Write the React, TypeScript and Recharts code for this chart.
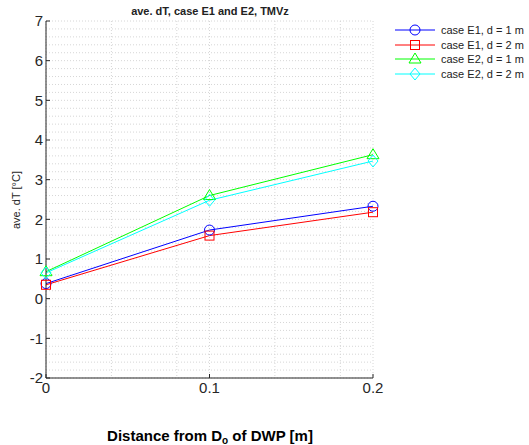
import { LineChart, Line, XAxis, YAxis, CartesianGrid } from 'recharts'

const distances = [0, 0.1, 0.2]
const e1d1 = [0.38, 1.73, 2.33]
const e1d2 = [0.35, 1.59, 2.18]
const e2d1 = [0.68, 2.6, 3.63]
const e2d2 = [0.65, 2.48, 3.47]

const xTicks = [0, 0.1, 0.2]
const yTicks = [-2, -1, 0, 1, 2, 3, 4, 5, 6, 7]

const seriesNames = ['case E1, d = 1 m', 'case E1, d = 2 m', 'case E2, d = 1 m', 'case E2, d = 2 m']
const seriesColors = ['#0000ff', '#ff0000', '#00ff00', '#00ffff']
const seriesShapes = ['circle', 'square', 'triangle', 'diamond']

const data = distances.map((d, i) => ({ x: d, s0: e1d1[i], s1: e1d2[i], s2: e2d1[i], s3: e2d2[i] }))

// grid positions (minor grid every 0.02 in x, 0.2 in y)
const xGrid = Array.from({ length: 11 }, (_, i) => +(i * 0.02).toFixed(2))
const yGrid = Array.from({ length: 46 }, (_, i) => +(-2 + i * 0.2).toFixed(1))

const FONT = '"Liberation Sans", Arial, sans-serif'

function Marker({ shape, cx, cy, color }: { shape: string; cx: number; cy: number; color: string }) {
  const p = { fill: 'none', stroke: color, strokeWidth: 1 }
  if (shape === 'circle') return <circle cx={cx} cy={cy} r={5} {...p} />
  if (shape === 'square') return <rect x={cx - 4.5} y={cy - 4.5} width={9} height={9} {...p} />
  if (shape === 'triangle') return <polygon points={`${cx},${cy - 6} ${cx - 6},${cy + 4} ${cx + 6},${cy + 4}`} {...p} />
  return <polygon points={`${cx},${cy - 6} ${cx + 5},${cy} ${cx},${cy + 6} ${cx - 5},${cy}`} {...p} />
}

function makeDot(k: number) {
  return (props: any) => {
    const { cx, cy, index } = props
    if (cx == null || cy == null) return <g key={index} />
    return <Marker key={index} shape={seriesShapes[k]} cx={cx} cy={cy} color={seriesColors[k]} />
  }
}

function LegendBox() {
  return (
    <div style={{ position: 'absolute', left: 395, top: 23, fontFamily: FONT, fontSize: 11, color: '#222' }}>
      {seriesNames.map((n, k) => (
        <div key={n} style={{ display: 'flex', alignItems: 'center', height: 14.5 }}>
          <svg width={44} height={14}>
            <line x1={0} y1={7} x2={40} y2={7} stroke={seriesColors[k]} strokeWidth={1} />
            <Marker shape={seriesShapes[k]} cx={20} cy={7} color={seriesColors[k]} />
          </svg>
          <span style={{ marginLeft: 2 }}>{n}</span>
        </div>
      ))}
    </div>
  )
}

export default function App() {
  return (
    <div style={{ position: 'absolute', left: 0, top: 0, width: 529, height: 445, background: '#fff', fontFamily: FONT }}>
      <LineChart width={529} height={445} data={data} margin={{ top: 21, right: 156, bottom: 37, left: 6 }}>
        <CartesianGrid
          stroke="#d6d6d6"
          strokeDasharray="1 2"
          verticalValues={xGrid}
          horizontalValues={yGrid}
        />
        <XAxis
          dataKey="x"
          type="number"
          domain={[0, 0.2]}
          ticks={xTicks}
          tickLine={{ stroke: '#262626' }}
          tickSize={-4}
          axisLine={{ stroke: '#262626' }}
          tick={{ fill: '#262626', fontSize: 15, fontFamily: FONT }}
          tickMargin={8}
          height={30}
        />
        <YAxis
          type="number"
          domain={[-2, 7]}
          ticks={yTicks}
          tickLine={{ stroke: '#262626' }}
          tickSize={-4}
          axisLine={{ stroke: '#262626' }}
          tick={{ fill: '#262626', fontSize: 15, fontFamily: FONT }}
          tickMargin={7}
          width={40}
          interval={0}
        />
        {seriesNames.map((n, k) => (
          <Line
            key={n}
            dataKey={`s${k}`}
            name={n}
            stroke={seriesColors[k]}
            strokeWidth={1}
            dot={makeDot(k)}
            activeDot={false}
            isAnimationActive={false}
          />
        ))}
        <text x={210} y={15} textAnchor="middle" fontSize={11} fontWeight="bold" fill="#222">
          ave. dT, case E1 and E2, TMVz
        </text>
        <text x={20} y={200} textAnchor="middle" fontSize={11} fill="#262626" transform="rotate(-90 20 200)">
          ave. dT [°C]
        </text>
        <text x={210} y={441} textAnchor="middle" fontSize={15} fontWeight="bold" fill="#000">
          Distance from D<tspan fontSize={10} dy={3}>o</tspan><tspan dy={-3}> of DWP [m]</tspan>
        </text>
      </LineChart>
      <LegendBox />
    </div>
  )
}
